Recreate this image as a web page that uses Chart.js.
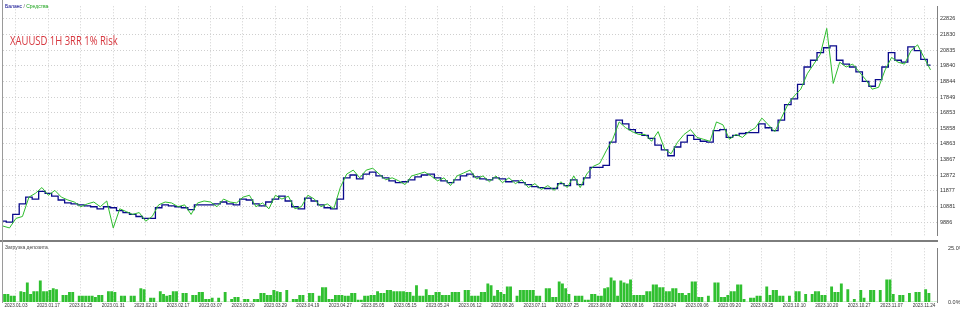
<!DOCTYPE html>
<html lang="ru">
<head>
<meta charset="UTF-8">
<title>XAUUSD 1H 3RR 1% Risk</title>
<script src="https://cdn.jsdelivr.net/npm/chart.js"></script>
<style>
    body { margin: 0; background: #fff; font-family: "Liberation Sans", Arial, sans-serif; }
    #wrap { position: relative; width: 960px; height: 310px; overflow: hidden; background: #fff; }
    .panel { position: absolute; left: 0; width: 960px; }
    #topPanel { top: 0; height: 242px; }
    #bottomPanel { top: 242px; height: 68px; }
    .sep { position: absolute; left: 0; top: 240px; width: 938px; height: 2px; background: #7d7d7d; }
    .frame { position: absolute; left: 2px; top: 0; width: 1px; height: 303px; background: #9a9a9a; }
    .legend { position: absolute; left: 5px; top: 3px; font-size: 5px; color: #555; }
    .legend .bal { color: #00008b; }
    .legend .eq { color: #1aa31a; }
    .title { position: absolute; left: 10px; top: 32px; font-size: 12px; color: #d6353d;
             font-family: "Open Sans", sans-serif; transform: scaleX(0.79); transform-origin: 0 0; }
    .load { position: absolute; left: 5px; top: 244px; font-size: 5px; color: #444; }
</style>
</head>
<body>
<div id="wrap">
    <div class="panel" id="topPanel"><canvas id="equityChart"></canvas></div>
    <div class="panel" id="bottomPanel"><canvas id="loadChart"></canvas></div>
    <div class="sep"></div>
    <div class="frame"></div>
    <div class="legend"><span class="bal">Баланс</span> / <span class="eq">Средства</span></div>
    <div class="title">XAUUSD 1H 3RR 1% Risk</div>
    <div class="load">Загрузка депозита</div>
</div>

<script>
    // tick labels
    const dateLabels = ["2023.01.03", "2023.01.17", "2023.01.25", "2023.01.31", "2023.02.10", "2023.02.17",
        "2023.03.07", "2023.03.20", "2023.03.29", "2023.04.19", "2023.04.27", "2023.05.05", "2023.05.15",
        "2023.05.24", "2023.06.12", "2023.06.26", "2023.07.11", "2023.07.25", "2023.08.08", "2023.08.16",
        "2023.08.24", "2023.09.06", "2023.09.20", "2023.09.25", "2023.10.10", "2023.10.20", "2023.10.27",
        "2023.11.07", "2023.11.24"];
    const yTicks = [9886, 10881, 11877, 12872, 13867, 14863, 15858, 16853, 17849, 18844, 19840, 20835, 21830, 22826];

    // balance / equity, one value every 2 trades
    const balance = [9950, 9890, 10380, 11050, 11480, 11360, 11850, 11725, 11540, 11300,
        11110, 11050, 10990, 10930, 10870, 10740, 10870, 10805, 10620, 10500,
        10380, 10250, 10130, 10130, 10805, 10990, 10930, 10870, 10805, 10680,
        10990, 10990, 10990, 11050, 11170, 11050, 10990, 11360, 11300, 11050,
        10930, 11170, 11360, 11540, 11235, 10870, 10740, 11420, 11235, 10990,
        10805, 10740, 11360, 12710, 12890, 12645, 12950, 13075, 12830, 12710,
        12520, 12400, 12460, 12585, 12770, 12890, 12950, 12710, 12520, 12400,
        12585, 12830, 12950, 12770, 12645, 12585, 12710, 12645, 12460, 12520,
        12400, 12280, 12155, 12090, 12030, 12030, 12340, 12215, 12585, 12280,
        12710, 13380, 13380, 13500, 14975, 16385, 16140, 15775, 15590, 15405,
        15220, 14790, 14485, 14115, 14670, 14975, 15405, 15160, 15035, 14975,
        15710, 15775, 15280, 15405, 15530, 15590, 15590, 16140, 15895, 15710,
        16385, 17370, 17735, 18655, 19760, 20190, 20680, 20985, 21110, 20190,
        19945, 19760, 19455, 18840, 18535, 18960, 19760, 20680, 20190, 20065,
        21045, 20800, 20250, 19880];
    const equity = [9640, 9520, 10130, 10250, 11480, 11725, 12090, 11600, 11910, 11480,
        11300, 11170, 10870, 11050, 11170, 10870, 11235, 9520, 10740, 10560,
        10380, 10500, 9950, 10250, 10990, 11170, 11110, 10870, 10990, 10380,
        11110, 11235, 11170, 10870, 11360, 11170, 11110, 11480, 11600, 10870,
        11110, 10740, 11600, 11360, 11540, 10740, 10870, 11600, 11360, 10870,
        11050, 10740, 12090, 12950, 13200, 12710, 13200, 13320, 12950, 12585,
        12710, 12520, 12280, 12830, 12950, 13075, 12830, 12520, 12710, 12215,
        12830, 13015, 13200, 12645, 12830, 12460, 12830, 12400, 12710, 12340,
        12585, 12090, 12340, 11970, 12215, 11910, 12460, 12090, 12830, 12090,
        12950, 13440, 13625, 14425, 15160, 16265, 15895, 15650, 15470, 15470,
        15035, 15650, 14545, 14240, 14975, 15470, 15775, 15280, 15160, 15035,
        16265, 16080, 15160, 15470, 15280, 15650, 15895, 16510, 16080, 15650,
        16510, 17370, 17920, 18350, 19330, 19945, 20555, 22215, 18715, 20065,
        19760, 19945, 19455, 18960, 18350, 18470, 19575, 20370, 20065, 19945,
        20800, 21170, 20370, 19575];

    // deposit load, percent, one bar per trade
    const depositLoad = [3.6, 3.6, 2.7, 2.7, 0, 4.9, 4.5, 8.9, 3.6, 4.9,
        4.9, 9.8, 4.9, 4.9, 5.4, 6.2, 5.8, 0, 3.1, 3.1,
        4.5, 4.5, 0, 2.7, 2.7, 2.7, 2.7, 2.7, 2.2, 3.1,
        3.1, 0, 4.9, 4.9, 4.5, 0, 2.7, 2.7, 0, 2.7,
        2.7, 0, 6.2, 5.8, 0, 1.8, 1.8, 0, 4.9, 3.6,
        2.7, 3.1, 4.9, 4.9, 0, 4.0, 4.0, 0, 3.1, 3.1,
        4.5, 4.5, 1.3, 1.3, 1.8, 0, 1.8, 0, 4.5, 0,
        1.3, 2.2, 2.2, 0, 1.3, 1.3, 0, 1.3, 1.3, 4.0,
        4.0, 3.1, 3.1, 5.4, 4.9, 4.5, 0, 5.4, 0, 1.3,
        1.3, 3.1, 3.1, 0, 4.0, 4.0, 0, 2.7, 6.7, 6.7,
        1.3, 1.3, 3.1, 3.1, 3.1, 2.7, 2.7, 4.0, 4.0, 0.9,
        0.9, 2.7, 2.7, 3.1, 3.1, 4.9, 4.0, 4.0, 5.4, 5.4,
        4.9, 4.9, 4.9, 4.9, 4.5, 4.5, 2.7, 7.6, 2.7, 2.7,
        5.8, 3.1, 3.1, 4.5, 4.5, 3.1, 3.1, 3.1, 4.5, 4.5,
        4.5, 0, 5.4, 5.4, 2.7, 2.7, 2.7, 4.5, 4.5, 8.5,
        7.6, 2.7, 5.4, 4.5, 3.6, 7.1, 7.1, 0, 2.7, 5.4,
        5.4, 5.4, 5.4, 5.4, 2.7, 2.7, 0, 6.2, 6.2, 2.2,
        2.2, 9.4, 8.5, 6.2, 3.6, 0, 2.7, 2.7, 2.7, 0.9,
        0.9, 3.6, 3.6, 2.7, 2.7, 6.2, 6.7, 11.2, 9.8, 2.7,
        9.8, 8.9, 8.5, 10.3, 3.1, 3.1, 3.1, 3.1, 4.9, 4.9,
        8.0, 8.0, 6.7, 6.7, 4.9, 4.9, 6.2, 6.2, 4.0, 4.0,
        3.1, 4.0, 9.4, 9.4, 2.2, 2.2, 0, 2.7, 0, 8.9,
        8.9, 2.2, 2.2, 3.1, 4.9, 4.9, 8.0, 8.0, 1.3, 0,
        1.8, 1.8, 2.7, 2.7, 0, 7.1, 3.1, 5.4, 5.4, 2.7,
        2.7, 0, 2.7, 0, 4.9, 4.9, 0, 3.6, 0, 3.6,
        4.9, 4.9, 3.1, 3.1, 0, 7.1, 4.5, 4.5, 8.5, 0,
        5.8, 0, 1.3, 0, 5.4, 1.8, 0, 5.4, 5.4, 0,
        5.4, 0, 10.3, 10.3, 3.6, 0, 3.1, 3.1, 0, 4.0,
        0, 4.5, 4.5, 0, 5.8, 4.0, 0, 0];

    const tradeMax = 288;
    const tickFont = { family: "Liberation Sans", size: 5.5 };
    const gridColor = "#cfcfcf";

    function dateTicks(axis) {
        axis.ticks = dateLabels.map((_, k) => ({ value: 4 + 10 * k }));
    }

    new Chart(document.getElementById("equityChart"), {
        type: "line",
        data: {
            datasets: [
                {
                    label: "Средства",
                    data: equity.map((v, j) => ({ x: j * 2, y: v })),
                    borderColor: "#2ebd2e",
                    borderWidth: 1,
                    pointRadius: 0,
                    tension: 0,
                },
                {
                    label: "Баланс",
                    data: balance.map((v, j) => ({ x: j * 2, y: v })),
                    borderColor: "#0a0a8c",
                    borderWidth: 1.3,
                    pointRadius: 0,
                    stepped: "middle",
                },
            ],
        },
        options: {
            responsive: true,
            maintainAspectRatio: false,
            animation: false,
            layout: { padding: { left: 3, top: 2, bottom: 2, right: 0 } },
            plugins: { legend: { display: false }, tooltip: { enabled: false } },
            scales: {
                x: {
                    type: "linear",
                    min: 0,
                    max: tradeMax,
                    afterBuildTicks: dateTicks,
                    afterFit: (axis) => { axis.height = 0; },
                    ticks: { display: false },
                    grid: { color: gridColor, drawTicks: false },
                    border: { display: false, dash: [1, 2] },
                },
                y: {
                    position: "right",
                    min: 9027,
                    max: 23623,
                    afterBuildTicks: (axis) => { axis.ticks = yTicks.map((v) => ({ value: v })); },
                    afterFit: (axis) => { axis.width = 23; },
                    ticks: { font: tickFont, color: "#333", padding: 3, callback: (v) => String(v) },
                    grid: { color: gridColor, drawTicks: false },
                    border: { display: true, color: "#808080", width: 1, dash: [1, 2] },
                },
            },
        },
    });

    new Chart(document.getElementById("loadChart"), {
        type: "bar",
        data: {
            datasets: [{
                label: "Загрузка депозита",
                data: depositLoad.map((v, i) => ({ x: i + 0.5, y: v })),
                backgroundColor: "#30c030",
                barThickness: 2.2,
            }],
        },
        options: {
            responsive: true,
            maintainAspectRatio: false,
            animation: false,
            layout: { padding: { left: 3, top: 4, bottom: 0, right: 0 } },
            plugins: { legend: { display: false }, tooltip: { enabled: false } },
            scales: {
                x: {
                    type: "linear",
                    min: 0,
                    max: tradeMax,
                    offset: false,
                    afterBuildTicks: dateTicks,
                    afterFit: (axis) => { axis.height = 8; },
                    ticks: {
                        font: { family: "Liberation Sans", size: 4.6 },
                        color: "#333",
                        padding: 1,
                        maxRotation: 0,
                        autoSkip: false,
                        callback: (v) => dateLabels[(v - 4) / 10],
                    },
                    grid: { color: gridColor, drawTicks: false, offset: false },
                    border: { display: false, dash: [1, 2] },
                },
                y: {
                    position: "right",
                    min: 0,
                    max: 25,
                    afterBuildTicks: (axis) => { axis.ticks = [{ value: 0 }, { value: 25 }]; },
                    afterFit: (axis) => { axis.width = 23; },
                    ticks: { font: tickFont, color: "#333", padding: 3, callback: (v) => v.toFixed(1) + "%" },
                    grid: { display: false },
                    border: { display: true, color: "#808080", width: 1 },
                },
            },
        },
    });
</script>
</body>
</html>
